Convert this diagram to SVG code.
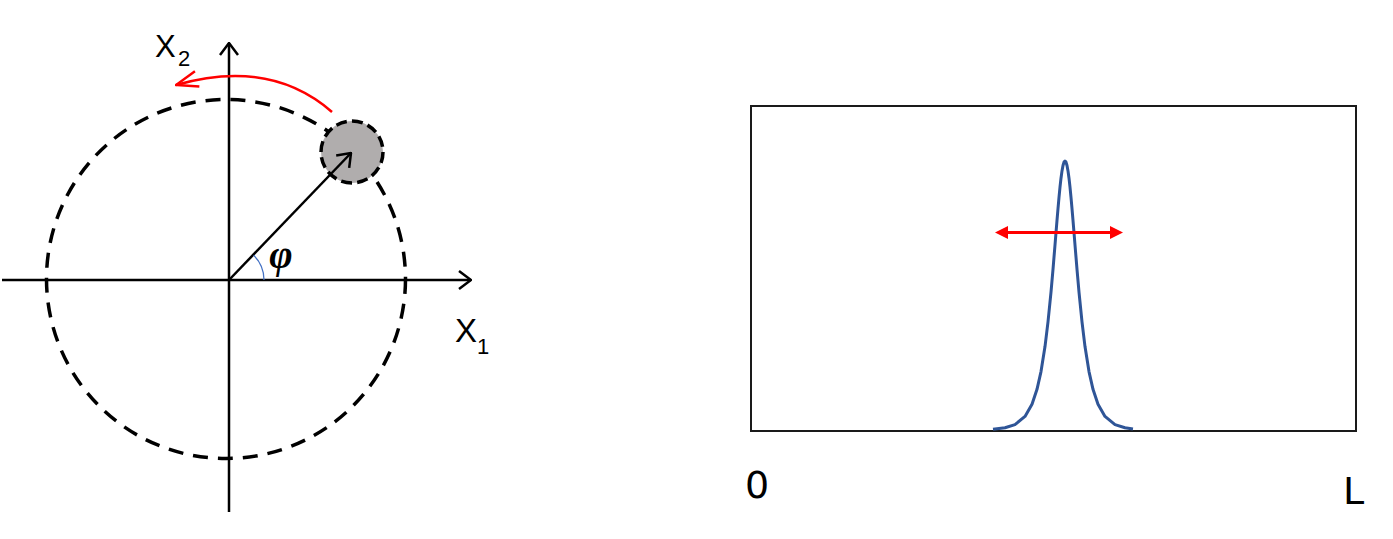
<svg xmlns="http://www.w3.org/2000/svg" width="1393" height="539" viewBox="0 0 1393 539">
<style>
.axis{stroke:#000;stroke-width:2.5;fill:none}
.dash{stroke:#000;stroke-width:3.5;fill:none}
.red{stroke:#ff0000;stroke-width:2.5;fill:none}
.lbl{font-family:"Liberation Sans",Arial,sans-serif;fill:#000}
.lbl2{font-family:"DejaVu Sans",sans-serif;fill:#000}
.phi{font-family:"Liberation Serif","Times New Roman",serif;font-style:italic;font-weight:bold;fill:#000}
</style>
<defs>
<marker id="open" viewBox="0 0 14 20" refX="13" refY="10" markerWidth="14" markerHeight="20" markerUnits="userSpaceOnUse" orient="auto">
<path d="M1,1 L13,10 L1,19" fill="none" stroke="#000" stroke-width="2.5"/>
</marker>
<marker id="openred" viewBox="0 0 24 20" refX="23" refY="10" markerWidth="24" markerHeight="20" markerUnits="userSpaceOnUse" orient="auto">
<path d="M1,2 L23,10 L1,18" fill="none" stroke="#ff0000" stroke-width="2.5"/>
</marker>
</defs>
<g id="left-panel">
<g id="orbit">
<circle cx="226" cy="279" r="179.5" class="dash" stroke-dasharray="15 10"/>
</g>
<g id="axes">
<line x1="2" y1="280" x2="471" y2="280" class="axis" marker-end="url(#open)"/>
<line x1="229" y1="512" x2="229" y2="43" class="axis" marker-end="url(#open)"/>
</g>
<g id="particle">
<circle cx="352" cy="152" r="31" fill="#b0adad" stroke="#000" stroke-width="3.5" stroke-dasharray="11 5.2"/>
</g>
<g id="connectors">
<line x1="229" y1="280" x2="351" y2="153" class="axis" marker-end="url(#open)"/>
<path d="M332,112 Q270,58 176,85" class="red" marker-end="url(#openred)"/>
<path d="M253.7,255.3 A35,35 0 0 1 264,280" fill="none" stroke="#4472c4" stroke-width="1.2"/>
</g>
<g id="labels">
<text x="281" y="268" class="phi" font-size="40" text-anchor="middle">φ</text>
<text x="155" y="57" class="lbl" font-size="31">X</text>
<text x="178" y="66" class="lbl" font-size="22">2</text>
<text x="455" y="342" class="lbl" font-size="33">X</text>
<text x="477" y="354" class="lbl" font-size="22">1</text>
</g>
</g>
<g id="right-panel">
<g id="box">
<rect x="751" y="106" width="605" height="325" fill="none" stroke="#1a1a1a" stroke-width="2"/>
</g>
<g id="peak">
<path d="M993,429.3 L1005,427.8 L1015,424.6 L1025,416.4 L1032,404.2 L1037,389.3 L1041,371.6 L1045,346.6 L1048,321.9 L1051,292.2 L1053,269.3 L1054,257.2 L1055,245 L1056,232.6 L1057,220.4 L1058,208.6 L1059,197.4 L1060,187.1 L1061,178.2 L1062,170.9 L1063,165.5 L1064,162.1 L1065,161 L1066,162.1 L1067,165.5 L1068,170.9 L1069,178.2 L1070,187.1 L1071,197.4 L1072,208.6 L1073,220.4 L1074,232.6 L1075,245 L1076,257.2 L1077,269.3 L1079,292.2 L1082,321.9 L1085,346.6 L1089,371.6 L1093,389.3 L1098,404.2 L1105,416.4 L1115,424.6 L1125,427.8 L1133,429" fill="none" stroke="#2f5597" stroke-width="3" stroke-linejoin="round"/>
</g>
<g id="shift-arrow">
<line x1="1007" y1="232.5" x2="1111" y2="232.5" stroke="#ff0000" stroke-width="3"/>
<path d="M995,232.5 L1008,226 L1008,239 Z" fill="#ff0000"/>
<path d="M1123,232.5 L1110,226 L1110,239 Z" fill="#ff0000"/>
</g>
<g id="ticks">
<text x="745" y="498" class="lbl2" font-size="38">0</text>
<text x="1343" y="504" class="lbl2" font-size="38">L</text>
</g>
</g>
</svg>
